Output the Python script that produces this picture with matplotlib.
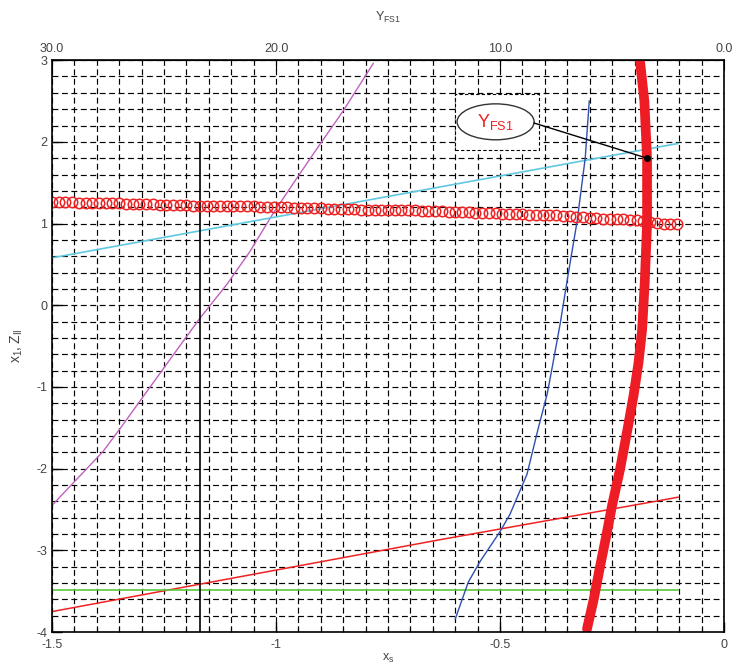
import numpy as np
import matplotlib
matplotlib.use("Agg")
import matplotlib.pyplot as plt
from matplotlib.patches import Ellipse, Rectangle

plt.rcParams['font.family'] = ['Liberation Sans', 'DejaVu Sans']
plt.rcParams['axes.unicode_minus'] = False
plt.rcParams['mathtext.default'] = 'regular'

# ---- data ----
# magenta curve
mag_x = [-1.5, -1.386, -1.348, -1.219, -1.170, -1.109, -1.058, -1.007, -0.953, -0.902, -0.850, -0.783]
mag_y = [-2.45, -1.79, -1.51, -0.53, -0.16, 0.26, 0.66, 1.12, 1.56, 1.97, 2.38, 2.96]

# cyan line
cyan_x = [-1.5, -0.103]
cyan_y = [0.58, 1.98]

# thin red line
red_x = [-1.5, -0.634, -0.143, -0.103]
red_y = [-3.75, -2.87, -2.39, -2.35]

# green line
green_x = [-1.5, -0.103]
green_y = [-3.48, -3.48]

# black vertical line
vline_x = -1.17
vline_y = [-4.0, 1.98]

# blue curve
blue_x = [-0.600, -0.571, -0.545, -0.500, -0.478, -0.440, -0.415, -0.395, -0.384,
          -0.366, -0.348, -0.328, -0.310, -0.301]
blue_y = [-3.84, -3.39, -3.14, -2.77, -2.56, -2.07, -1.51, -1.09, -0.77,
          -0.23, 0.38, 1.03, 1.80, 2.50]

# thick red curve (Y_FS1)
fs_x = [-0.306, -0.291, -0.277, -0.264, -0.250, -0.232, -0.215, -0.202, -0.191,
        -0.183, -0.177, -0.172, -0.172, -0.178, -0.188]
fs_y = [-3.96, -3.6, -3.2, -2.85, -2.45, -2.0, -1.5, -1.1, -0.7,
        -0.3, 0.3, 1.0, 1.8, 2.5, 3.0]

# red open circles
circ_x = np.round(np.arange(94) * 0.015 - 1.5, 3)
circ_y = [1.26, 1.26, 1.26, 1.26, 1.25, 1.25, 1.25, 1.25, 1.25, 1.25,
          1.25, 1.24, 1.24, 1.24, 1.24, 1.24, 1.23, 1.23, 1.23, 1.23,
          1.23, 1.22, 1.22, 1.22, 1.22, 1.22, 1.21, 1.21, 1.21, 1.21,
          1.21, 1.20, 1.20, 1.20, 1.20, 1.20, 1.19, 1.19, 1.19, 1.19,
          1.19, 1.18, 1.18, 1.18, 1.18, 1.18, 1.17, 1.17, 1.17, 1.17,
          1.17, 1.16, 1.16, 1.16, 1.16, 1.15, 1.15, 1.15, 1.15, 1.14,
          1.14, 1.14, 1.14, 1.13, 1.13, 1.13, 1.13, 1.12, 1.12, 1.12,
          1.12, 1.11, 1.11, 1.11, 1.10, 1.10, 1.09, 1.09, 1.08, 1.08,
          1.07, 1.07, 1.06, 1.06, 1.05, 1.05, 1.04, 1.04, 1.03, 1.02,
          1.01, 1.00, 1.00, 0.99]

# annotation
label_pt = (-0.172, 1.80)
label_xy = (-0.510, 2.245)

fig = plt.figure(figsize=(7.33, 6.72), dpi=100)
ax = fig.add_axes([0.0709, 0.0595, 0.917, 0.851])

grid_ls = (0, (5, 3))
ax.set_xlim(-1.5, 0)
ax.set_ylim(-4, 3)
ax.set_xticks([-1.5, -1, -0.5, 0])
ax.set_xticklabels(['-1.5', '-1', '-0.5', '0'])
ax.set_xticks(np.arange(-1.5, 0.001, 0.05), minor=True)
ax.set_yticks(np.arange(-4, 4, 1))
ax.set_yticks(np.arange(-4, 3.01, 0.2), minor=True)
ax.grid(True, which='both', color='black', linestyle=grid_ls, linewidth=0.85)
ax.tick_params(which='both', direction='in', labelsize=9, labelcolor='#444444')
ax.tick_params(axis='x', which='both', pad=5)
ax.tick_params(which='major', length=7, width=1)
ax.tick_params(which='minor', length=4, width=0.8)
ax.tick_params(axis='y', which='minor', length=0)
for s in ax.spines.values():
    s.set_linewidth(1.2)

ax.plot(mag_x, mag_y, color='#c060c0', lw=1.0)
ax.plot(cyan_x, cyan_y, color='#60c8e0', lw=1.2)
ax.plot(red_x, red_y, color='#ee2222', lw=1.1)
ax.plot(green_x, green_y, color='#5ac83c', lw=1.2)
ax.plot([vline_x, vline_x], vline_y, color='black', lw=1.2)
ax.plot(blue_x, blue_y, color='#3050b0', lw=1.0)
ax.plot(circ_x, circ_y, linestyle='none', marker='o', ms=7.5, mfc='none',
        mec='#ee2222', mew=1.1)
ax.plot(fs_x, fs_y, color='#ee1c24', lw=7, solid_capstyle='round')

# callout
ax.add_patch(Rectangle((-0.600, 1.90), 0.187, 0.69, fc='white', ec='black',
                       ls=(0, (3, 2)), lw=0.8, zorder=4))
ax.add_patch(Ellipse(label_xy, 0.172, 0.44, fc='white', ec='#333333', lw=1.0, zorder=5))
ax.text(label_xy[0], label_xy[1], '$Y_{FS1}$', color='#ee2222', fontsize=13,
        ha='center', va='center', zorder=6)
ax.plot([label_xy[0] + 0.086, label_pt[0]], [2.23, label_pt[1]], color='black', lw=1.0, zorder=6)
ax.plot(*label_pt, marker='o', color='black', ms=4, zorder=7)

ax.set_xlabel('$x_s$', fontsize=9, color='#444444', labelpad=1)
ax.set_ylabel('$x_1, Z_{II}$', fontsize=10, color='#444444', labelpad=8)

top = ax.secondary_xaxis('top', functions=(lambda x: -20 * x, lambda y: -y / 20))
top.set_xticks([30, 20, 10, 0])
top.set_xticklabels(['30.0', '20.0', '10.0', '0.0'])
top.tick_params(direction='in', length=7, labelsize=9, labelcolor='#444444')
top.set_xlabel('$Y_{FS1}$', fontsize=9, color='#444444', labelpad=16)

fig.savefig('out.png', dpi=100)
